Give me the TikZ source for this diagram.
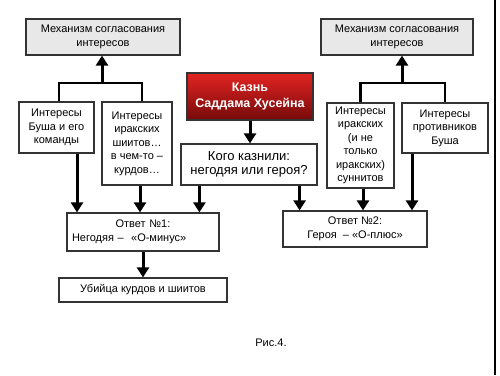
\documentclass[tikz,border=0pt]{standalone}
\usepackage{fontspec}
\setmainfont{Liberation Sans}
\usetikzlibrary{arrows.meta,calc,positioning}
\definecolor{kaznTop}{RGB}{226,36,34}
\definecolor{kaznBot}{RGB}{118,10,10}
\tikzset {
  >={Triangle[width=12pt,length=10pt]},
  every node/.style={font=\fontsize{11}{13.5}\selectfont},
  box/.style={draw=black!80,line width=1.2pt,fill=white,align=center,inner sep=1pt},
  graybox/.style={box,fill=black!9},
  redbox/.style={box,top color=kaznTop,bottom color=kaznBot,text=white,
    font=\bfseries\fontsize{12.5}{16}\selectfont},
  arr/.style={->,line width=3pt},
  link/.style={line width=2.5pt},
}

\begin{document}
\begin{tikzpicture}[x=1pt,y=-1pt]
  \useasboundingbox (0,0) rectangle (500,375);
  \node[graybox,minimum width=154pt,minimum height=36pt] (mech1) at (103,37)
    {Механизм согласования\\интересов};
  \node[graybox,minimum width=152pt,minimum height=36pt] (mech2) at (397,37)
    {Механизм согласования\\интересов};
  \node[redbox,minimum width=126pt,minimum height=47pt] (kazn) at (250,96.5)
    {Казнь\\Саддама Хусейна};
  \node[box,minimum width=136pt,minimum height=41pt,font=\fontsize{13}{14}\selectfont]
    (kogo) at (249,164.5) {Кого казнили:\\негодяя или героя?};
  \node[box,minimum width=75pt,minimum height=51pt] (bush) at (56.5,127.5)
    {Интересы\\Буша и его\\команды};
  \node[box,minimum width=70pt,minimum height=83pt] (shia) at (137,143.5)
    {Интересы\\иракских\\шиитов…\\в чем-то --\\курдов…};
  \node[box,minimum width=67pt,minimum height=85pt] (sunni) at (360.5,145.5)
    {Интересы\\иракских\\(и не\\только\\иракских)\\суннитов};
  \node[box,minimum width=86pt,minimum height=50pt] (protiv) at (445,128)
    {Интересы\\противников\\Буша};
  \node[box,align=left,text width=142pt,minimum width=152pt,minimum height=38pt]
    (ans1) at (143,232) {\hfill Ответ №1:\hfill\mbox{}\\Негодяя --\ \ «О-минус»};
  \node[box,minimum width=144pt,minimum height=36pt] (ans2) at (355,229)
    {Ответ №2:\\Героя\ \ -- «О-плюс»};
  \node[box,minimum width=168pt,minimum height=24pt] (ubiyca) at (143,290)
    {Убийца курдов и шиитов};
  \node (ris) at (271,343) {Рис.4.};

  % mechanisms
  \coordinate (j1) at (102,83);
  \coordinate (j2) at (402,83);
  \draw[link] ([xshift=2.5pt]bush.north) |- (j1) -| ([xshift=5pt]shia.north);
  \draw[arr] (j1) -- (j1 |- mech1.south);
  \draw[link] (sunni.north) |- (j2) -| (protiv.north);
  \draw[arr] (j2) -- (j2 |- mech2.south);

  % answers
  \draw[arr] (kazn.south) -- (kazn.south |- kogo.north);
  \draw[arr] ([xshift=20.5pt]bush.south) -- ([xshift=20.5pt]bush.south |- ans1.north);
  \draw[arr] ([xshift=3pt]shia.south) -- ([xshift=3pt]shia.south |- ans1.north);
  \draw[arr] ([xshift=19pt]kogo.south west) -- ([xshift=19pt]kogo.south west |- ans1.north);
  \draw[arr] ([xshift=-18pt]kogo.south east) -- ([xshift=-18pt]kogo.south east |- ans2.north);
  \draw[arr] ([xshift=2.5pt]sunni.south) -- ([xshift=2.5pt]sunni.south |- ans2.north);
  \draw[arr] ([xshift=-33pt]protiv.south) -- ([xshift=-33pt]protiv.south |- ans2.north);
  \draw[arr] (ans1.south) -- (ubiyca.north);

  \draw[line width=1.5pt] (495,0) -- (495,375);
\end{tikzpicture}
\end{document}
